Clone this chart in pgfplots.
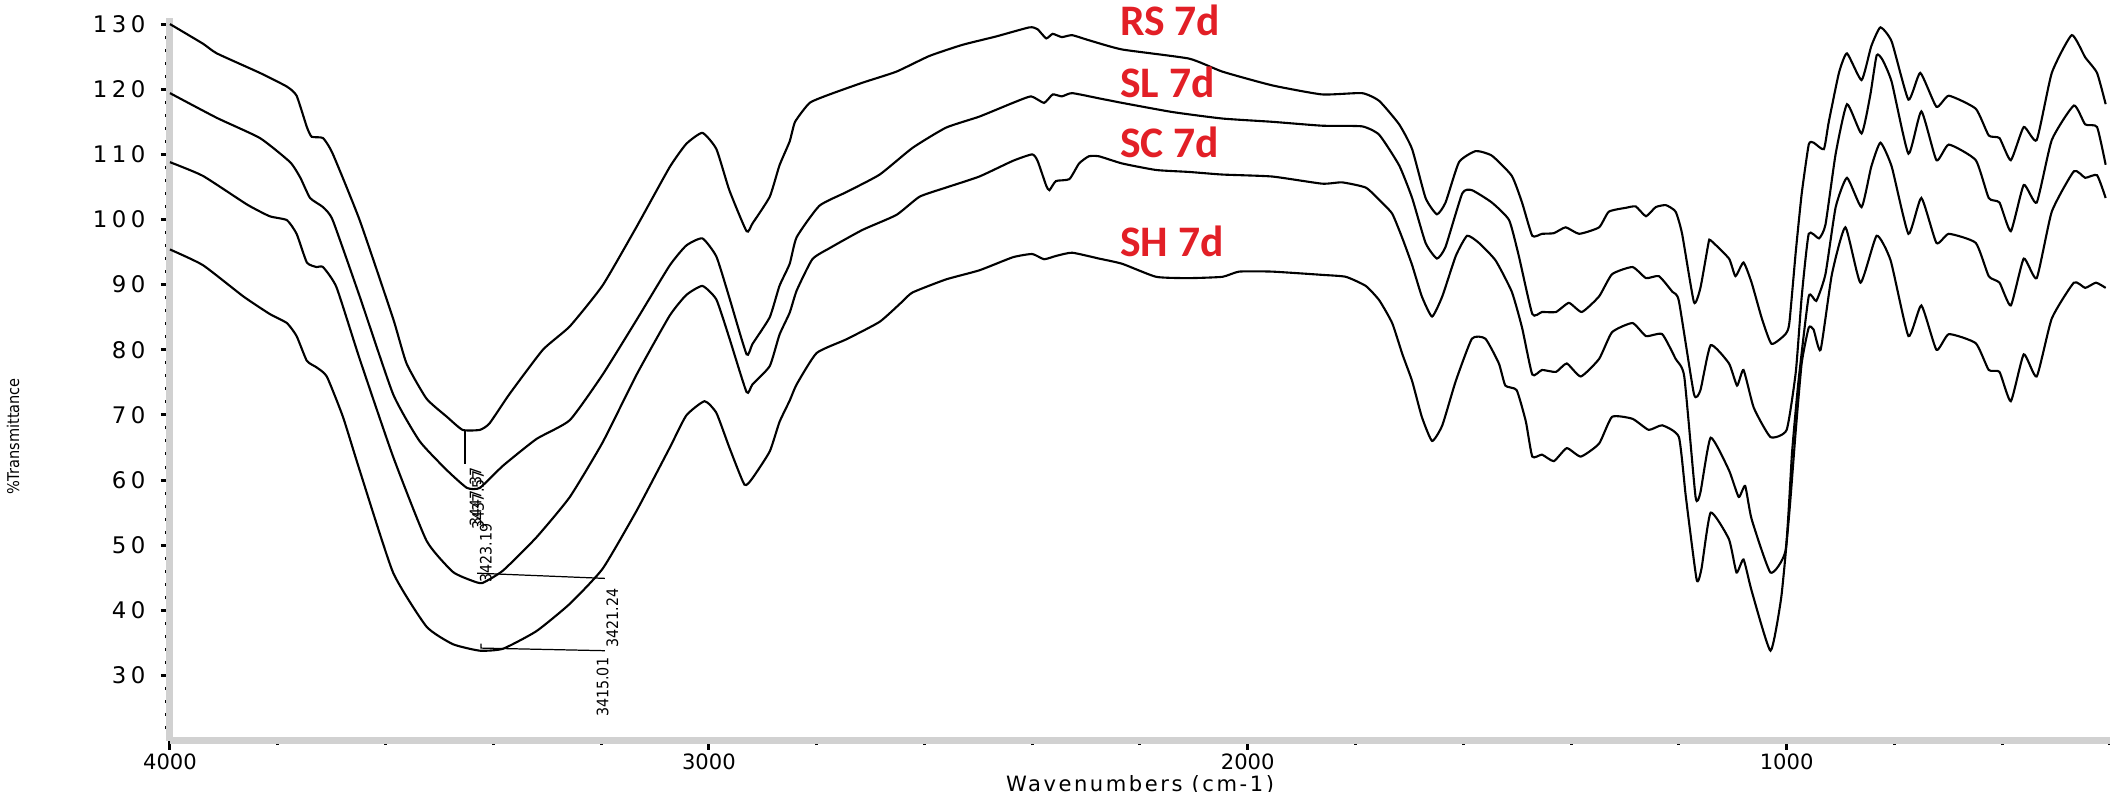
\documentclass[border=0pt]{standalone}
\usepackage{fontspec}
\setmainfont{DejaVu Sans}
\newfontfamily\labfont{Carlito}
\newfontfamily\ytickfont[LetterSpace=20]{DejaVu Sans}
\newfontfamily\xlabfont[LetterSpace=12]{DejaVu Sans}
\newfontfamily\condfont{DejaVu Sans Condensed}
\usepackage{pgfplots}
\pgfplotsset{compat=1.18}
\definecolor{labred}{RGB}{226,31,38}

\pgfplotstableread{
w v
4000 130.0
3939 127.0
3913 125.5
3833 122.5
3783 120.4
3765 119.0
3746 114.2
3737 112.7
3716 112.5
3698 110.1
3648 99.9
3586 84.8
3561 77.9
3524 72.5
3486 69.7
3457 67.7
3425 67.7
3407 68.7
3370 73.2
3308 80.0
3258 83.6
3197 89.9
3134 98.9
3073 108.0
3042 111.6
3012 113.3
2986 110.8
2962 104.5
2930 98.2
2919 99.4
2887 103.5
2869 108.3
2850 112.0
2840 115.0
2813 117.9
2776 119.2
2715 121.0
2652 122.7
2591 125.1
2530 126.8
2467 128.1
2405 129.5
2390 129.2
2374 127.8
2362 128.5
2345 128.0
2326 128.3
2294 127.5
2233 126.1
2109 124.7
2047 122.7
1955 120.6
1862 119.2
1788 119.4
1756 118.2
1719 114.6
1695 110.8
1670 103.3
1649 100.8
1633 102.6
1608 108.8
1577 110.5
1547 109.8
1510 106.7
1491 102.6
1472 97.5
1454 97.8
1432 97.9
1410 98.8
1385 97.8
1348 98.8
1330 101.2
1298 101.8
1280 102.0
1261 100.5
1243 101.9
1224 102.2
1206 101.2
1194 97.8
1172 87.3
1160 89.5
1145 96.4
1141 96.8
1107 94.0
1095 91.3
1080 93.4
1065 90.3
1046 84.8
1028 80.9
1002 82.4
995 84.1
983 95.1
972 104.0
959 111.5
950 111.8
931 110.8
922 114.9
903 122.5
888 125.5
861 121.4
843 126.6
826 129.5
805 127.3
774 118.4
752 122.5
722 117.3
699 119.0
649 117.0
625 112.9
605 112.5
584 109.1
560 114.2
536 112.2
508 122.5
471 128.3
446 124.9
424 122.5
408 117.7
}\rsdata

\pgfplotstableread{
w v
4000 119.4
3913 115.6
3833 112.5
3777 108.8
3758 106.4
3740 103.3
3716 101.9
3698 99.9
3648 88.2
3586 73.2
3537 66.0
3486 61.5
3449 58.8
3425 58.8
3382 62.2
3320 66.3
3258 69.2
3197 76.2
3134 84.6
3073 92.9
3042 96.0
3012 97.1
2986 94.3
2962 88.0
2930 79.3
2919 80.9
2887 85.0
2869 89.8
2850 93.2
2837 97.3
2795 102.1
2745 104.2
2683 106.9
2622 111.0
2560 114.1
2498 115.8
2436 117.9
2402 118.9
2378 117.9
2362 119.2
2345 118.9
2326 119.4
2276 118.6
2233 117.9
2140 116.5
2047 115.5
1955 115.0
1862 114.4
1788 114.3
1756 113.0
1719 108.3
1695 103.3
1670 96.4
1649 94.0
1633 95.8
1602 104.0
1584 104.5
1547 102.6
1515 99.9
1497 94.4
1472 85.5
1454 85.8
1428 85.8
1404 87.2
1380 85.8
1348 88.2
1324 91.6
1286 92.7
1261 91.0
1237 91.3
1212 88.9
1200 87.5
1172 73.2
1160 73.8
1141 80.7
1107 77.9
1092 74.5
1080 76.9
1061 71.1
1030 66.6
1000 67.7
983 76.6
972 88.2
959 97.8
940 97.1
928 99.2
909 110.1
888 117.7
861 113.2
845 119.0
833 125.2
822 124.5
805 121.1
774 110.1
750 116.6
722 109.1
699 111.5
649 109.1
625 103.3
605 102.6
584 98.2
560 105.3
536 102.6
508 112.2
467 117.5
446 114.6
424 114.2
408 108.4
}\sldata

\pgfplotstableread{
w v
4000 108.8
3939 106.7
3857 102.3
3815 100.5
3783 99.9
3765 97.8
3746 93.4
3728 92.7
3716 92.7
3691 89.6
3648 78.6
3586 63.6
3524 50.7
3475 45.9
3438 44.5
3420 44.2
3382 46.1
3320 51.2
3258 57.4
3197 65.8
3134 76.2
3073 85.2
3042 88.4
3012 89.8
2986 87.7
2962 81.8
2930 73.5
2919 74.7
2887 77.5
2869 82.3
2850 85.7
2837 89.1
2808 93.9
2776 95.6
2715 98.4
2652 100.7
2609 103.5
2560 104.9
2498 106.6
2436 109.0
2400 110.0
2390 109.0
2374 105.2
2368 104.5
2356 105.9
2331 106.2
2313 108.6
2295 109.7
2276 109.7
2233 108.6
2170 107.6
2109 107.3
2047 106.9
1955 106.6
1862 105.5
1825 105.7
1781 104.9
1756 103.0
1732 100.9
1713 97.1
1695 93.0
1677 88.2
1658 85.1
1639 88.2
1614 94.4
1593 97.5
1571 96.4
1540 93.7
1510 88.9
1491 83.4
1472 76.2
1454 76.9
1428 76.6
1408 77.9
1382 75.9
1348 78.6
1324 82.7
1286 84.1
1261 82.1
1231 82.4
1206 78.6
1190 75.9
1169 57.4
1160 58.1
1141 66.5
1107 61.5
1089 57.4
1077 59.1
1065 54.0
1030 45.8
1002 49.2
990 64.2
978 75.2
959 88.2
945 87.5
928 91.6
909 101.9
888 106.4
861 101.9
843 108.1
826 111.8
805 108.1
774 97.8
750 103.3
722 96.4
699 97.8
649 96.4
625 91.3
605 90.3
584 86.8
560 94.0
536 91.0
508 101.2
467 107.4
446 106.4
424 106.8
408 103.3
}\scdata

\pgfplotstableread{
w v
4000 95.4
3939 93.0
3864 88.2
3815 85.5
3783 84.1
3765 82.1
3746 78.3
3728 77.3
3709 75.9
3679 69.7
3648 61.5
3586 45.8
3524 37.5
3475 34.8
3425 33.8
3382 34.1
3320 36.8
3258 41.0
3197 46.4
3134 55.3
3073 64.9
3042 69.9
3008 72.1
2986 70.3
2962 65.0
2934 59.3
2919 60.3
2887 64.4
2869 68.9
2850 72.2
2837 74.7
2800 79.5
2745 81.6
2683 84.3
2641 87.4
2622 88.8
2560 90.8
2498 92.2
2436 94.2
2400 94.7
2378 93.9
2356 94.4
2326 94.9
2276 94.0
2233 93.2
2170 91.2
2109 91.0
2047 91.2
2016 92.0
1955 92.0
1862 91.5
1818 91.2
1781 89.8
1756 87.6
1732 84.1
1713 79.3
1695 75.2
1677 69.7
1658 66.0
1639 68.4
1614 75.2
1584 81.7
1559 81.7
1534 77.9
1522 74.5
1501 73.8
1484 69.0
1472 63.6
1454 63.9
1432 62.9
1408 64.9
1382 63.6
1348 65.6
1324 69.7
1286 69.4
1256 67.7
1231 68.4
1200 66.6
1187 57.4
1167 44.7
1158 46.4
1141 55.0
1107 50.9
1093 45.8
1080 47.8
1065 43.0
1030 33.8
1010 42.0
995 55.0
983 67.7
972 78.0
959 83.4
950 83.1
937 80.0
916 91.6
891 98.8
863 90.3
833 97.5
807 93.7
774 82.1
750 86.8
722 80.0
699 82.4
649 81.0
625 76.9
605 76.6
584 72.1
560 79.3
536 75.9
508 84.8
467 90.3
446 89.5
426 90.3
408 89.5
}\shdata

\begin{document}
\begin{tikzpicture}
\begin{axis}[
    at={(0,0)}, anchor=south west,
    scale only axis, width=194mm, height=72.3mm,
    x dir=reverse,
    xmin=400, xmax=4000, ymin=20, ymax=131,
    axis lines=left,
    axis line style={-, line width=0.7mm, draw=black!18},
    xtick={1000,2000,3000,4000},
    minor xtick={400,600,...,3800},
    ytick={30,40,...,130},
    minor ytick={22,24,...,128},
    tick align=outside,
    major tick length=0.9mm, minor tick length=0.45mm,
    tick style={black, line width=0.3mm},
    /pgf/number format/assume math mode=true,
    /pgf/number format/1000 sep={},
    yticklabel style={font=\fontsize{6.5}{7}\ytickfont, xshift=-0.3mm},
    xticklabel style={font=\fontsize{6}{7}\selectfont, yshift=0.8mm},
    clip=false,
]
\addplot[black, line width=0.6pt, smooth, tension=0.3] table[x=w, y=v] {\rsdata};
\addplot[black, line width=0.6pt, smooth, tension=0.3] table[x=w, y=v] {\sldata};
\addplot[black, line width=0.6pt, smooth, tension=0.3] table[x=w, y=v] {\scdata};
\addplot[black, line width=0.6pt, smooth, tension=0.3] table[x=w, y=v] {\shdata};

% peak markers
\draw[line width=0.45pt] (3453,67.5) -- (3453,62.5);
\draw[line width=0.35pt] (3430,45.7) -- (3193,44.9);
\draw[line width=0.35pt] (3423,34.9) -- (3423,34.2) -- (3193,33.8);
\node[rotate=90, anchor=east, inner sep=0, font=\fontsize{4.5}{5}\condfont] at (3433,62) {3447.37};
\node[rotate=90, anchor=east, inner sep=0, font=\fontsize{4.5}{5}\condfont] at (3428,61.6) {3437.57};
\node[rotate=90, anchor=east, inner sep=0, font=\fontsize{4.5}{5}\condfont] at (3414,53.4) {3423.19};
\node[rotate=90, anchor=east, inner sep=0, font=\fontsize{4.5}{5}\condfont] at (3179,43.4) {3421.24};
\node[rotate=90, anchor=east, inner sep=0, font=\fontsize{4.5}{5}\condfont] at (3197,32.8) {3415.01};

% sample labels
\node[anchor=west, inner sep=0, text=labred, font=\fontsize{12.4}{14}\labfont\bfseries] at (2238,130.5) {RS 7d};
\node[anchor=west, inner sep=0, text=labred, font=\fontsize{12.4}{14}\labfont\bfseries] at (2238,121.1) {SL 7d};
\node[anchor=west, inner sep=0, text=labred, font=\fontsize{12.4}{14}\labfont\bfseries] at (2238,111.8) {SC 7d};
\node[anchor=west, inner sep=0, text=labred, font=\fontsize{12.4}{14}\labfont\bfseries] at (2238,96.6) {SH 7d};
\end{axis}
% axis titles
\node[font=\fontsize{6}{7}\xlabfont] at (97mm,-4.4mm) {Wavenumbers (cm-1)};
\node[rotate=90, font=\fontsize{4.6}{5}\condfont] at (-15.7mm,30.4mm) {\%Transmittance};
\pgfresetboundingbox
\path[use as bounding box] (-17mm,-5.14mm) rectangle (194mm,74.06mm);
\end{tikzpicture}
\end{document}
